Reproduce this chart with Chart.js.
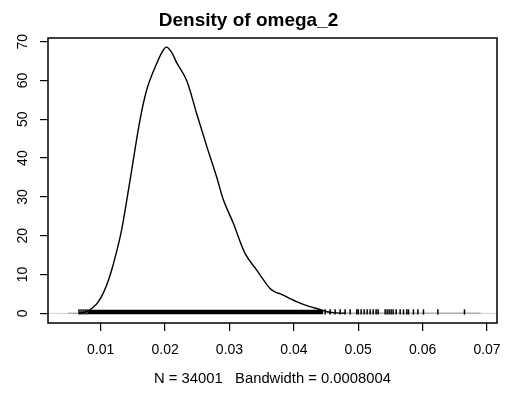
<!DOCTYPE html>
<html>
<head>
<meta charset="utf-8">
<script src="https://cdn.jsdelivr.net/npm/chart.js@4.4.1/dist/chart.umd.min.js"></script>
<style>
  html, body { margin: 0; padding: 0; background: #fff; }
  #wrap { width: 521px; height: 396px; }
</style>
</head>
<body>
<div id="wrap"><canvas id="density" width="521" height="396"></canvas></div>
<script>
// density curve
const densX = [0.0049, 0.0066, 0.0074, 0.0080, 0.0088, 0.0096, 0.0104, 0.0112, 0.0120, 0.01325,
  0.01457, 0.0161, 0.01715, 0.0187, 0.0196, 0.0202, 0.0210, 0.0218, 0.0234, 0.0249,
  0.0265, 0.0280, 0.0290, 0.0306, 0.0324, 0.0342, 0.0352, 0.0363, 0.0372, 0.0379,
  0.0392, 0.0404, 0.0425, 0.0438, 0.0451, 0.0465, 0.0480, 0.0690];
const densY = [0, 0, 0.2, 0.6, 1.5, 2.9, 5.2, 8.5, 12.9, 21.5,
  34.4, 49.8, 57.6, 64.4, 67.5, 68.6, 67.3, 64.6, 59.8, 51.5,
  42.9, 35.2, 29.5, 23.2, 15.5, 11.2, 8.8, 6.4, 5.4, 5.0,
  4.0, 3.0, 1.7, 1.1, 0.4, 0.1, 0, 0];

// observations (show.obs): a solid run of ticks plus the loose ones at both ends
const obsBand = [0.00803, 0.04455];
const obsTicks = [0.00664, 0.00695, 0.00726, 0.00757, 0.00788,
  0.04486, 0.04563, 0.04641, 0.04719, 0.04796, 0.04874, 0.04978, 0.0500, 0.05045, 0.05092,
  0.05138, 0.05185, 0.05232, 0.05278, 0.05309, 0.05418, 0.05449, 0.05480, 0.05511, 0.05542,
  0.05589, 0.05651, 0.05703, 0.05755, 0.05780, 0.05858, 0.05926, 0.06013, 0.06237, 0.06650];
const obsHeight = 0.686; // max density / 100

const xTicks = [0.01, 0.02, 0.03, 0.04, 0.05, 0.06, 0.07];
const xTickLabels = ['0.01', '0.02', '0.03', '0.04', '0.05', '0.06', '0.07'];
const yTicks = [0, 10, 20, 30, 40, 50, 60, 70];
const yTickLabels = ['0', '10', '20', '30', '40', '50', '60', '70'];
const xRange = [0.001815, 0.071553];
const yRange = [-2.5, 70.95];

const mainTitle = 'Density of omega_2';
const xTitle = 'N = 34001   Bandwidth = 0.0008004';

const FONT = '"Liberation Sans", Arial, Helvetica, sans-serif';

const boxPlugin = {
  id: 'box',
  afterDatasetsDraw(chart) {
    const a = chart.chartArea, c = chart.ctx;
    c.save();
    c.strokeStyle = '#000';
    c.lineWidth = 1.5;
    c.strokeRect(a.left, a.top, a.right - a.left, a.bottom - a.top);
    c.restore();
  }
};

const half = obsHeight / 2;

new Chart(document.getElementById('density'), {
  type: 'scatter',
  data: {
    datasets: [
      {
        label: 'obs band',
        type: 'line',
        data: obsBand.map(x => ({ x, y: half })),
        borderColor: '#000',
        borderWidth: 4.6,
        borderCapStyle: 'butt',
        pointRadius: 0
      },
      {
        label: 'obs',
        data: obsTicks.map(x => ({ x, y: half })),
        pointStyle: 'line',
        rotation: 90,
        pointRadius: 2.6,
        pointBorderWidth: 1.5,
        borderColor: '#000',
        backgroundColor: '#000'
      },
      {
        label: 'density',
        type: 'line',
        data: densX.map((x, i) => ({ x, y: densY[i] })),
        borderColor: '#000',
        borderWidth: 1.4,
        pointRadius: 0,
        cubicInterpolationMode: 'monotone',
        segment: {
          borderColor: ctx => (ctx.p0.parsed.y === 0 && ctx.p1.parsed.y === 0) ? '#b0b0b0' : '#000'
        }
      },
      {
        label: 'zero',
        type: 'line',
        data: xRange.map(x => ({ x, y: 0 })),
        borderColor: '#d2d2d2',
        borderWidth: 1,
        pointRadius: 0
      }
    ]
  },
  options: {
    responsive: false,
    animation: false,
    devicePixelRatio: 1,
    layout: { padding: { left: 0, right: 24, top: 0, bottom: 0 } },
    plugins: {
      legend: { display: false },
      tooltip: { enabled: false },
      title: {
        display: true,
        text: mainTitle,
        color: '#000',
        font: { family: FONT, size: 19, weight: 'bold' },
        padding: { top: 9.1, bottom: 6.1 }
      }
    },
    scales: {
      x: {
        type: 'linear',
        min: xRange[0],
        max: xRange[1],
        afterBuildTicks: s => { s.ticks = xTicks.map(v => ({ value: v })); },
        afterFit: s => { s.height = 73; },
        border: { display: false },
        grid: { drawOnChartArea: false, drawTicks: true, tickLength: 8, color: '#000', lineWidth: 1.2 },
        ticks: {
          autoSkip: false,
          maxRotation: 0,
          color: '#000',
          padding: 11,
          font: { family: FONT, size: 14 },
          callback: (v, i) => xTickLabels[i]
        },
        title: {
          display: true,
          text: xTitle,
          color: '#000',
          font: { family: FONT, size: 14.8 },
          padding: { top: 0, bottom: 8 }
        }
      },
      y: {
        type: 'linear',
        min: yRange[0],
        max: yRange[1],
        afterBuildTicks: s => { s.ticks = yTicks.map(v => ({ value: v })); },
        afterFit: s => { s.width = 48; },
        border: { display: false },
        grid: { drawOnChartArea: false, drawTicks: true, tickLength: 8, color: '#000', lineWidth: 1.2 },
        ticks: {
          autoSkip: false,
          minRotation: 90,
          maxRotation: 90,
          crossAlign: 'center',
          color: '#000',
          padding: 9,
          font: { family: FONT, size: 14 },
          callback: (v, i) => yTickLabels[i]
        }
      }
    }
  },
  plugins: [boxPlugin]
});
</script>
</body>
</html>
